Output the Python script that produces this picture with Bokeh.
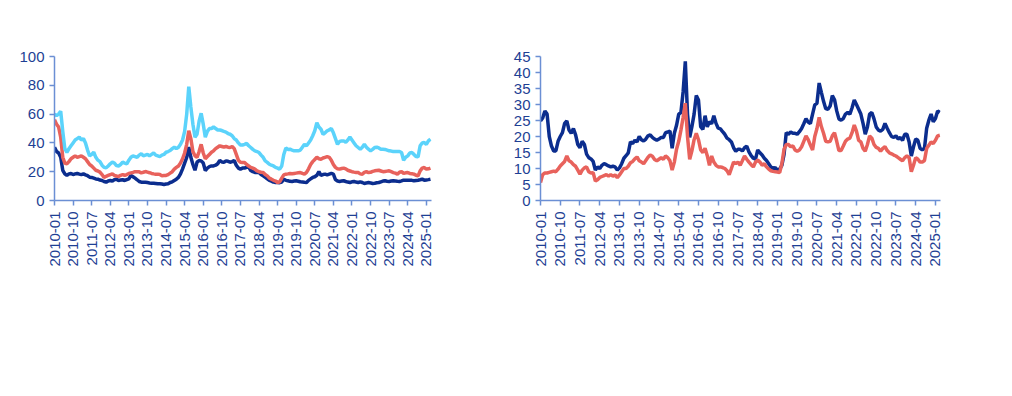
import math
from bokeh.plotting import figure
from bokeh.models import Range1d, FixedTicker, Legend, LegendItem, Label, BoxAnnotation
from bokeh.layouts import row
from bokeh.embed import file_html
from bokeh.resources import INLINE

# ---------------- data (monthly, 2010-01 .. 2025-03) ----------------
tick_labels = ["2010-01", "2010-10", "2011-07", "2012-04", "2013-01", "2013-10", "2014-07",
               "2015-04", "2016-01", "2016-10", "2017-07", "2018-04", "2019-01", "2019-10",
               "2020-07", "2021-04", "2022-01", "2022-10", "2023-07", "2024-04", "2025-01"]

central_soe = [37, 34, 33, 30, 21, 18.5, 17.4, 18.5, 18.8, 18,
               18.5, 18.8, 18.3, 18, 18.5, 17.8, 17.2, 16.2, 16, 15.5,
               15, 14.8, 14.2, 13.9, 13.2, 12.7, 13.6, 13.9, 13.4, 14.5,
               14.8, 13.9, 14.2, 14.4, 13.9, 14.5, 15, 17.4, 16.5, 15.5,
               14.4, 13.2, 12.7, 12.7, 12.7, 12.5, 12.2, 12, 12, 11.8,
               11.6, 11.6, 11.4, 11.1, 11.4, 11.6, 12.5, 13, 13.9, 14.8,
               16, 18.5, 22, 26, 30, 37, 30, 25, 21, 26.6,
               27.8, 27.5, 26, 20.8, 22.5, 23.5, 24, 24, 24.5, 25.5,
               27.8, 26.8, 26.6, 27.5, 27.2, 26.6, 27, 27.8, 24.5, 22.5,
               21.8, 22.5, 22.5, 23, 23.4, 20.8, 20, 19.5, 19.4, 19.4,
               18, 17.1, 16.2, 15, 14, 13.5, 12.8, 12.5, 12.5, 12.4,
               12.8, 14.8, 14, 13.7, 13.3, 13.2, 13.5, 13.7, 13.4, 13,
               12.8, 12.6, 12.5, 14, 15, 16, 16.5, 17.5, 20, 17.5,
               18, 18.3, 17.8, 18.3, 18.8, 18.3, 14.5, 13.5, 13.2, 13.5,
               13.7, 13.2, 12.8, 12.5, 13, 13.2, 12.8, 12.5, 13, 12.5,
               11.8, 12.2, 12.5, 12.2, 11.8, 12, 12.3, 12.5, 13, 13.5,
               13.7, 13.4, 13.2, 13.5, 13.7, 13.5, 13.3, 13.2, 13.6, 14.1,
               14.1, 14, 14.1, 14, 13.7, 13.9, 14.1, 14.4, 14.8, 14.1,
               14.3, 14.5, 14.8]

local_soe = [56, 53, 51, 44, 30, 26, 25.5, 27, 29, 30,
             31, 30, 30.5, 31, 30, 29, 27, 25, 24, 22.5,
             21, 20.5, 19.7, 18, 16, 16.8, 17.4, 18, 18.5, 17.4,
             17, 16.7, 17.5, 18, 17.4, 18, 18.8, 19.2, 19.5, 20,
             20, 19.9, 19.2, 19.6, 20.1, 19.7, 19.3, 18.8, 18.5, 18.3,
             18.3, 18, 17.2, 17.3, 17.4, 18, 19, 20, 21.8, 23,
             24, 26, 29, 33, 39, 48.4, 43, 34, 31, 30,
             34, 39, 33, 29, 30.5, 32, 33.5, 34.5, 36, 37,
             38, 37.5, 37, 37.5, 37, 36.8, 37.5, 36, 32, 28,
             26.6, 26.4, 26.4, 25, 24, 23, 22.5, 21.8, 20.6, 20,
             19.6, 19.4, 18, 17.1, 15.5, 14.8, 14, 13.5, 12.5, 13,
             15.5, 17.8, 18.3, 18.5, 18.8, 18.6, 18.8, 19, 19.2, 19.4,
             18.8, 18.3, 19.5, 22, 25, 27, 28.5, 30, 29, 28.7,
             29.5, 30, 30.5, 30, 28, 25, 23, 22, 21.8, 22.2,
             22.5, 22, 21, 20.5, 20, 19.7, 19.5, 19.4, 18.5, 18.3,
             19.5, 20, 19.4, 19.6, 20.2, 20.6, 20.8, 21, 20.5, 20,
             20.2, 20.4, 20.6, 20, 19.4, 19, 18.3, 19.6, 20, 18.8,
             19.2, 19.4, 18.8, 18.6, 18.3, 17.5, 17.1, 20.6, 22.5, 22.9,
             21.8, 22, 22.5]

private = [60, 59, 60, 62, 48, 36, 33.5, 36, 38, 40,
           42, 43, 44, 42, 43, 40, 35, 31, 32, 33.5,
           30, 28, 27, 24.5, 23, 22.7, 24, 25.5, 26.6, 26,
           24.3, 24, 25, 26.6, 26, 25.5, 28, 30, 31, 30.5,
           30, 31.5, 32.4, 31, 31.5, 32, 31, 32, 33, 31.5,
           31, 30.5, 31.5, 32, 33.5, 34, 34.7, 36, 37, 36,
           37, 39, 42, 48, 60, 79, 65, 53, 44, 46,
           55, 60.6, 53, 44, 48, 50, 50, 51, 50, 49,
           49, 48.6, 48, 47.5, 46.5, 46, 45, 43, 42, 40,
           38.5, 38.5, 39, 39.6, 38, 36.8, 35.5, 34.5, 34, 33.3,
           31.5, 30, 27.5, 26.5, 25.2, 24.5, 24, 23, 22.5, 21.8,
           24, 32, 36.5, 35.5, 35.6, 35, 34.5, 34.5, 34.5, 35,
           37, 39, 38, 40, 42, 45, 48.4, 54, 51, 49.5,
           46, 47, 48.4, 49, 50, 47, 43, 39, 41, 41.4,
           41.4, 40.5, 42, 44, 42, 40, 38, 36.8, 35.6, 37,
           39, 37, 35.6, 34.5, 35.5, 36.8, 37, 36.5, 35.6, 35.6,
           35.5, 35, 34.5, 34.3, 34, 34, 34, 34, 33.3, 28,
           30, 31, 33, 33.3, 32, 30.5, 30.3, 38, 40, 40.3,
           39, 41.4, 42.6]

gap_central = [24.9, 25.8, 28, 27, 20, 17, 15.5, 15.5, 18.5, 20,
               21.2, 24.1, 24.9, 22, 21, 22.5, 20.5, 17.5, 16.5, 18.5,
               17.5, 14.5, 13.4, 13, 12.2, 9.5, 10.5, 10, 11, 11.5,
               11.2, 10.8, 10.5, 10.7, 10.5, 9.5, 10.2, 11.5, 13.2, 14,
               14.9, 18.3, 17.8, 18.8, 18.3, 20, 19, 18.6, 19.2, 20.2,
               20.5, 19.7, 19.2, 18.8, 19.2, 19.7, 19.7, 21.2, 21.4, 21.7,
               16.3, 21, 23.5, 27, 27.5, 34, 43.5, 27, 19.7, 23.1,
               27, 32.8, 31.4, 23.1, 22.2, 26.5, 23, 24.6, 24, 26.5,
               24.1, 22.6, 22.4, 21.5, 20.7, 19.5, 19, 18.3, 16.5, 15.4,
               16, 16, 15.5, 16.5, 17, 15.2, 14, 13.2, 12.9, 15.8,
               14.9, 14.2, 13.2, 12.5, 11.5, 10.5, 10, 10.3, 9.5, 9.8,
               11, 14.4, 21.2, 20.7, 21.4, 21, 21, 20.7, 21.5, 22.5,
               24, 25.6, 24.5, 24, 27, 29.9, 30.4, 36.7, 33.8, 31,
               28.7, 28.5, 29.5, 32.8, 31.5, 28, 25.5, 25.1, 25.6, 27,
               27.5, 27, 29, 31.4, 30, 28.5, 27, 24.1, 20.7, 23,
               27, 27.5, 25.5, 23, 22, 21.7, 22.2, 24.1, 22.6, 21.2,
               20, 19.7, 20.2, 19.2, 19.7, 18.8, 20.7, 20.7, 18.3, 13.9,
               16.8, 19.2, 18.8, 16.3, 15.8, 16.3, 22.6, 25.1, 27, 24.6,
               25.6, 28, 27.5]

gap_local = [5.6, 8.1, 8.6, 8.6, 8.8, 9, 9.2, 9, 9.8, 10.8,
             11.5, 12.2, 13.9, 12.4, 12, 11.2, 10.7, 9.5, 8.2, 9.5,
             10.2, 10.5, 9, 8.6, 8.7, 6.1, 6.5, 7.2, 7.5, 7.8,
             8.1, 7.6, 8.1, 7.6, 8, 7.1, 8, 9, 10, 10,
             10.7, 11.8, 12.2, 13, 13.6, 12.4, 12, 11.5, 12.5, 13.5,
             14.2, 13.8, 12.8, 12.4, 12.9, 13.4, 12.9, 13.9, 13.4, 12.4,
             9.5, 12, 16, 18.5, 22, 26, 30.4, 20, 12.9, 15.5,
             19, 21, 19, 15.8, 15, 16.3, 14, 11, 13.9, 12,
             11, 10.5, 10.5, 10.3, 10, 9.3, 8.1, 10, 12, 11.5,
             12, 11, 12.4, 13.9, 12.9, 12, 11.2, 10.5, 12, 12.6,
             12, 11, 11.5, 10.5, 9.8, 9.3, 9.1, 9, 8.9, 8.7,
             11.5, 16, 17.5, 17.5, 16.8, 17.1, 15.8, 15.4, 15.8, 16.8,
             18.5, 20.2, 19, 17.3, 15.8, 20, 22.5, 26, 23.1, 21,
             18.5, 18.3, 18.5, 20.2, 21.2, 18.5, 15.6, 15.6, 17, 18.5,
             19.2, 19.5, 21.2, 23.6, 21.7, 18.8, 18.3, 16.3, 15.4, 17.5,
             20.2, 19.5, 17.5, 16.6, 16.3, 15.4, 16.3, 16.8, 15.6, 14.9,
             14.6, 14.2, 13.9, 13.4, 12.9, 12.4, 13.4, 13.9, 13.4, 9,
             11, 13.4, 12.9, 12, 12, 12.5, 16.3, 17.3, 18.3, 17.8,
             18.8, 20.2, 20.4]

# ---------------- styling ----------------
CN = "Noto Sans CJK SC"
NUM = "Liberation Sans"
NAVY = "#0b2d8e"
RED = "#e8625c"
CYAN = "#5bd3fb"
AXIS = "#6b8fd4"
TXT = "#1e3f94"

x_idx = list(range(len(central_soe)))
tick_pos = [(int(s[:4]) - 2010) * 12 + int(s[5:]) - 1 for s in tick_labels]


def make_fig(width, bl, br, bt, bb, xend, ymax, ystep):
    p = figure(width=width, height=380, output_backend="svg", toolbar_location=None,
               x_range=Range1d(0, xend), y_range=Range1d(0, ymax),
               min_border_left=bl, min_border_right=br,
               min_border_top=bt, min_border_bottom=bb,
               background_fill_color="white", border_fill_color="white",
               outline_line_color=None)
    p.xgrid.visible = False
    p.ygrid.visible = False
    for ax in (p.xaxis[0], p.yaxis[0]):
        ax.axis_line_color = AXIS
        ax.axis_line_width = 1.5
        ax.major_tick_line_color = AXIS
        ax.major_tick_line_width = 1.5
        ax.major_tick_out = 5
        ax.major_tick_in = 0
        ax.minor_tick_line_color = None
        ax.major_label_text_color = TXT
        ax.major_label_text_font = NUM
        ax.major_label_text_font_size = "15px"
    p.xaxis.ticker = FixedTicker(ticks=tick_pos)
    p.xaxis.major_label_overrides = {float(k): v for k, v in zip(tick_pos, tick_labels)}
    p.xaxis.major_label_orientation = math.pi / 2
    p.xaxis.major_label_standoff = 6
    p.yaxis.ticker = FixedTicker(ticks=list(range(0, ymax + 1, ystep)))
    p.yaxis.major_label_standoff = 5
    return p


def decorate(p, title, fx0, fy0, x0, x1):
    # fx0/fy0: page position of frame's left/bottom; x0/x1 page extent of rules
    p.add_layout(Label(x=x0 - fx0, y=fy0 - 20, x_units="screen", y_units="screen",
                       text=title, text_font=CN, text_font_size="20px",
                       text_font_style="bold", text_color=TXT,
                       text_baseline="middle", text_align="left"))
    p.add_layout(BoxAnnotation(left=x0 - fx0, right=x1 - fx0, top=fy0 - 32, bottom=fy0 - 34.5,
                               left_units="screen", right_units="screen",
                               top_units="screen", bottom_units="screen",
                               fill_color=TXT, fill_alpha=1, line_color=None))
    p.add_layout(BoxAnnotation(left=x0 - fx0, right=x1 - fx0, top=fy0 - 343, bottom=fy0 - 345.5,
                               left_units="screen", right_units="screen",
                               top_units="screen", bottom_units="screen",
                               fill_color=TXT, fill_alpha=1, line_color=None))
    p.add_layout(Label(x=x0 - fx0, y=fy0 - 365, x_units="screen", y_units="screen",
                       text="资料来源：Wind，申万宏源研究", text_font=CN,
                       text_font_size="17px", text_color=TXT,
                       text_baseline="middle", text_align="left"))


def add_legend(p, items, lx, ly):
    lg = Legend(items=items, orientation="horizontal", location=(lx, ly),
                glyph_width=40, glyph_height=20, label_standoff=5, spacing=4,
                padding=0, margin=0, border_line_color=None, background_fill_alpha=0,
                label_text_font=CN, label_text_font_size="16px", label_text_color=TXT)
    p.add_layout(lg)


# ---------------- left chart ----------------
pl = make_fig(500, 54, 69, 56, 180, 182.5, 100, 20)
r1 = pl.line(x_idx, central_soe, line_color=NAVY, line_width=3.5)
r2 = pl.line(x_idx, local_soe, line_color=RED, line_width=3.5)
r3 = pl.line(x_idx, private, line_color=CYAN, line_width=3.5)
add_legend(pl, [LegendItem(label="中央国有企业", renderers=[r1]),
                LegendItem(label="地方国有企业", renderers=[r2]),
                LegendItem(label="民营企业", renderers=[r3])], -26, -110)
decorate(pl, "图 5：A 股非金融上市公司 PE", 62, 208, 13, 486)

# ---------------- right chart ----------------
pr = make_fig(496, 40, 56, 50, 175, 182.3, 45, 5)
q1 = pr.line(x_idx, gap_central, line_color=NAVY, line_width=3.5)
q2 = pr.line(x_idx, gap_local, line_color=RED, line_width=3.5)
add_legend(pr, [LegendItem(label="民企-央企", renderers=[q1]),
                LegendItem(label="民企-地方国企", renderers=[q2])], 57, -112.5)
decorate(pr, "图 6：A 股非金融上市公司 PE 差异", 548, 212.5, 511, 996)

layout = row(pl, pr)
open("out.html", "w").write(file_html(layout, INLINE))
